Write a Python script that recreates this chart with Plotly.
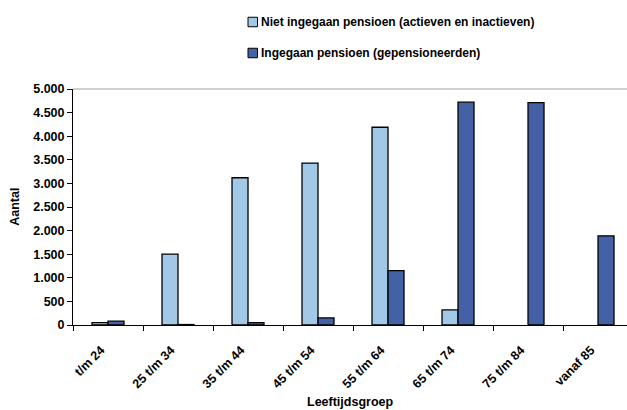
import plotly.graph_objects as go

categories = ["t/m 24", "25 t/m 34", "35 t/m 44", "45 t/m 54", "55 t/m 64", "65 t/m 74", "75 t/m 84", "vanaf 85"]
niet_ingegaan = [50, 1500, 3120, 3430, 4190, 320, None, None]
ingegaan = [80, 10, 50, 150, 1150, 4720, 4710, 1890]
name_niet = "Niet ingegaan pensioen (actieven en inactieven)"
name_ing = "Ingegaan pensioen (gepensioneerden)"
y_ticks = [0, 500, 1000, 1500, 2000, 2500, 3000, 3500, 4000, 4500, 5000]

light = "#A2C8E8"
dark = "#4561A6"
FONT = "Liberation Sans, Arial, sans-serif"

fig = go.Figure()
fig.add_trace(go.Bar(x=categories, y=niet_ingegaan, name=name_niet,
                     marker=dict(color=light, line=dict(color="black", width=1.3))))
fig.add_trace(go.Bar(x=categories, y=ingegaan, name=name_ing,
                     marker=dict(color=dark, line=dict(color="black", width=1.3))))

fig.update_layout(
    width=627, height=410,
    margin=dict(l=73, r=0, t=89, b=85),
    paper_bgcolor="white", plot_bgcolor="white",
    barmode="group", bargap=0.543, bargroupgap=0,
    separators=",.",
    showlegend=False,
    font=dict(family=FONT, color="black"),
)
fig.update_xaxes(
    range=[-0.5, 7.414], type="category",
    showline=True, linecolor="black", linewidth=1,
    ticks="outside", ticklen=5, tickcolor="black", tickson="boundaries",
    tickangle=-45, ticklabelstandoff=12, ticklabelshift=-7,
    tickfont=dict(size=12.5, weight="bold", family=FONT),
    showgrid=False,
)
fig.update_yaxes(
    range=[0, 5000], tickvals=y_ticks, tickformat=",d",
    showline=True, linecolor="black", linewidth=1,
    ticks="outside", ticklen=5, tickcolor="black",
    tickfont=dict(size=12.5, weight="bold", family=FONT),
    showgrid=False, zeroline=False,
)
# top border of plot area
fig.add_shape(type="line", xref="paper", yref="paper", x0=0, x1=1, y0=1, y1=1,
              line=dict(color="#A0A0A0", width=1))

# axis titles
fig.add_annotation(text="<b>Aantal</b>", xref="paper", yref="paper", x=-0.105, y=0.5,
                   xanchor="center", yanchor="middle", textangle=-90, showarrow=False,
                   font=dict(size=12.5, family=FONT))
fig.add_annotation(text="<b>Leeftijdsgroep</b>", xref="paper", yref="paper",
                   x=0.5, y=-(402 - 325) / 236, xanchor="center", yanchor="middle",
                   showarrow=False, font=dict(size=12.5, family=FONT))

# manual legend
legend_items = [(name_niet, light, 22), (name_ing, dark, 53)]
for name, col, ypx in legend_items:
    yc = (325 - ypx) / 236
    h = 9.5 / 236
    x0 = (248 - 73) / 554
    x1 = (257.5 - 73) / 554
    fig.add_shape(type="rect", xref="paper", yref="paper", x0=x0, x1=x1,
                  y0=yc - h / 2, y1=yc + h / 2, fillcolor=col,
                  line=dict(color="black", width=1))
    fig.add_annotation(text="<b>" + name + "</b>", xref="paper", yref="paper",
                       x=(259 - 73) / 554, y=yc, xanchor="left", yanchor="middle",
                       showarrow=False, font=dict(size=12, family=FONT))

fig.write_html("out.html")
